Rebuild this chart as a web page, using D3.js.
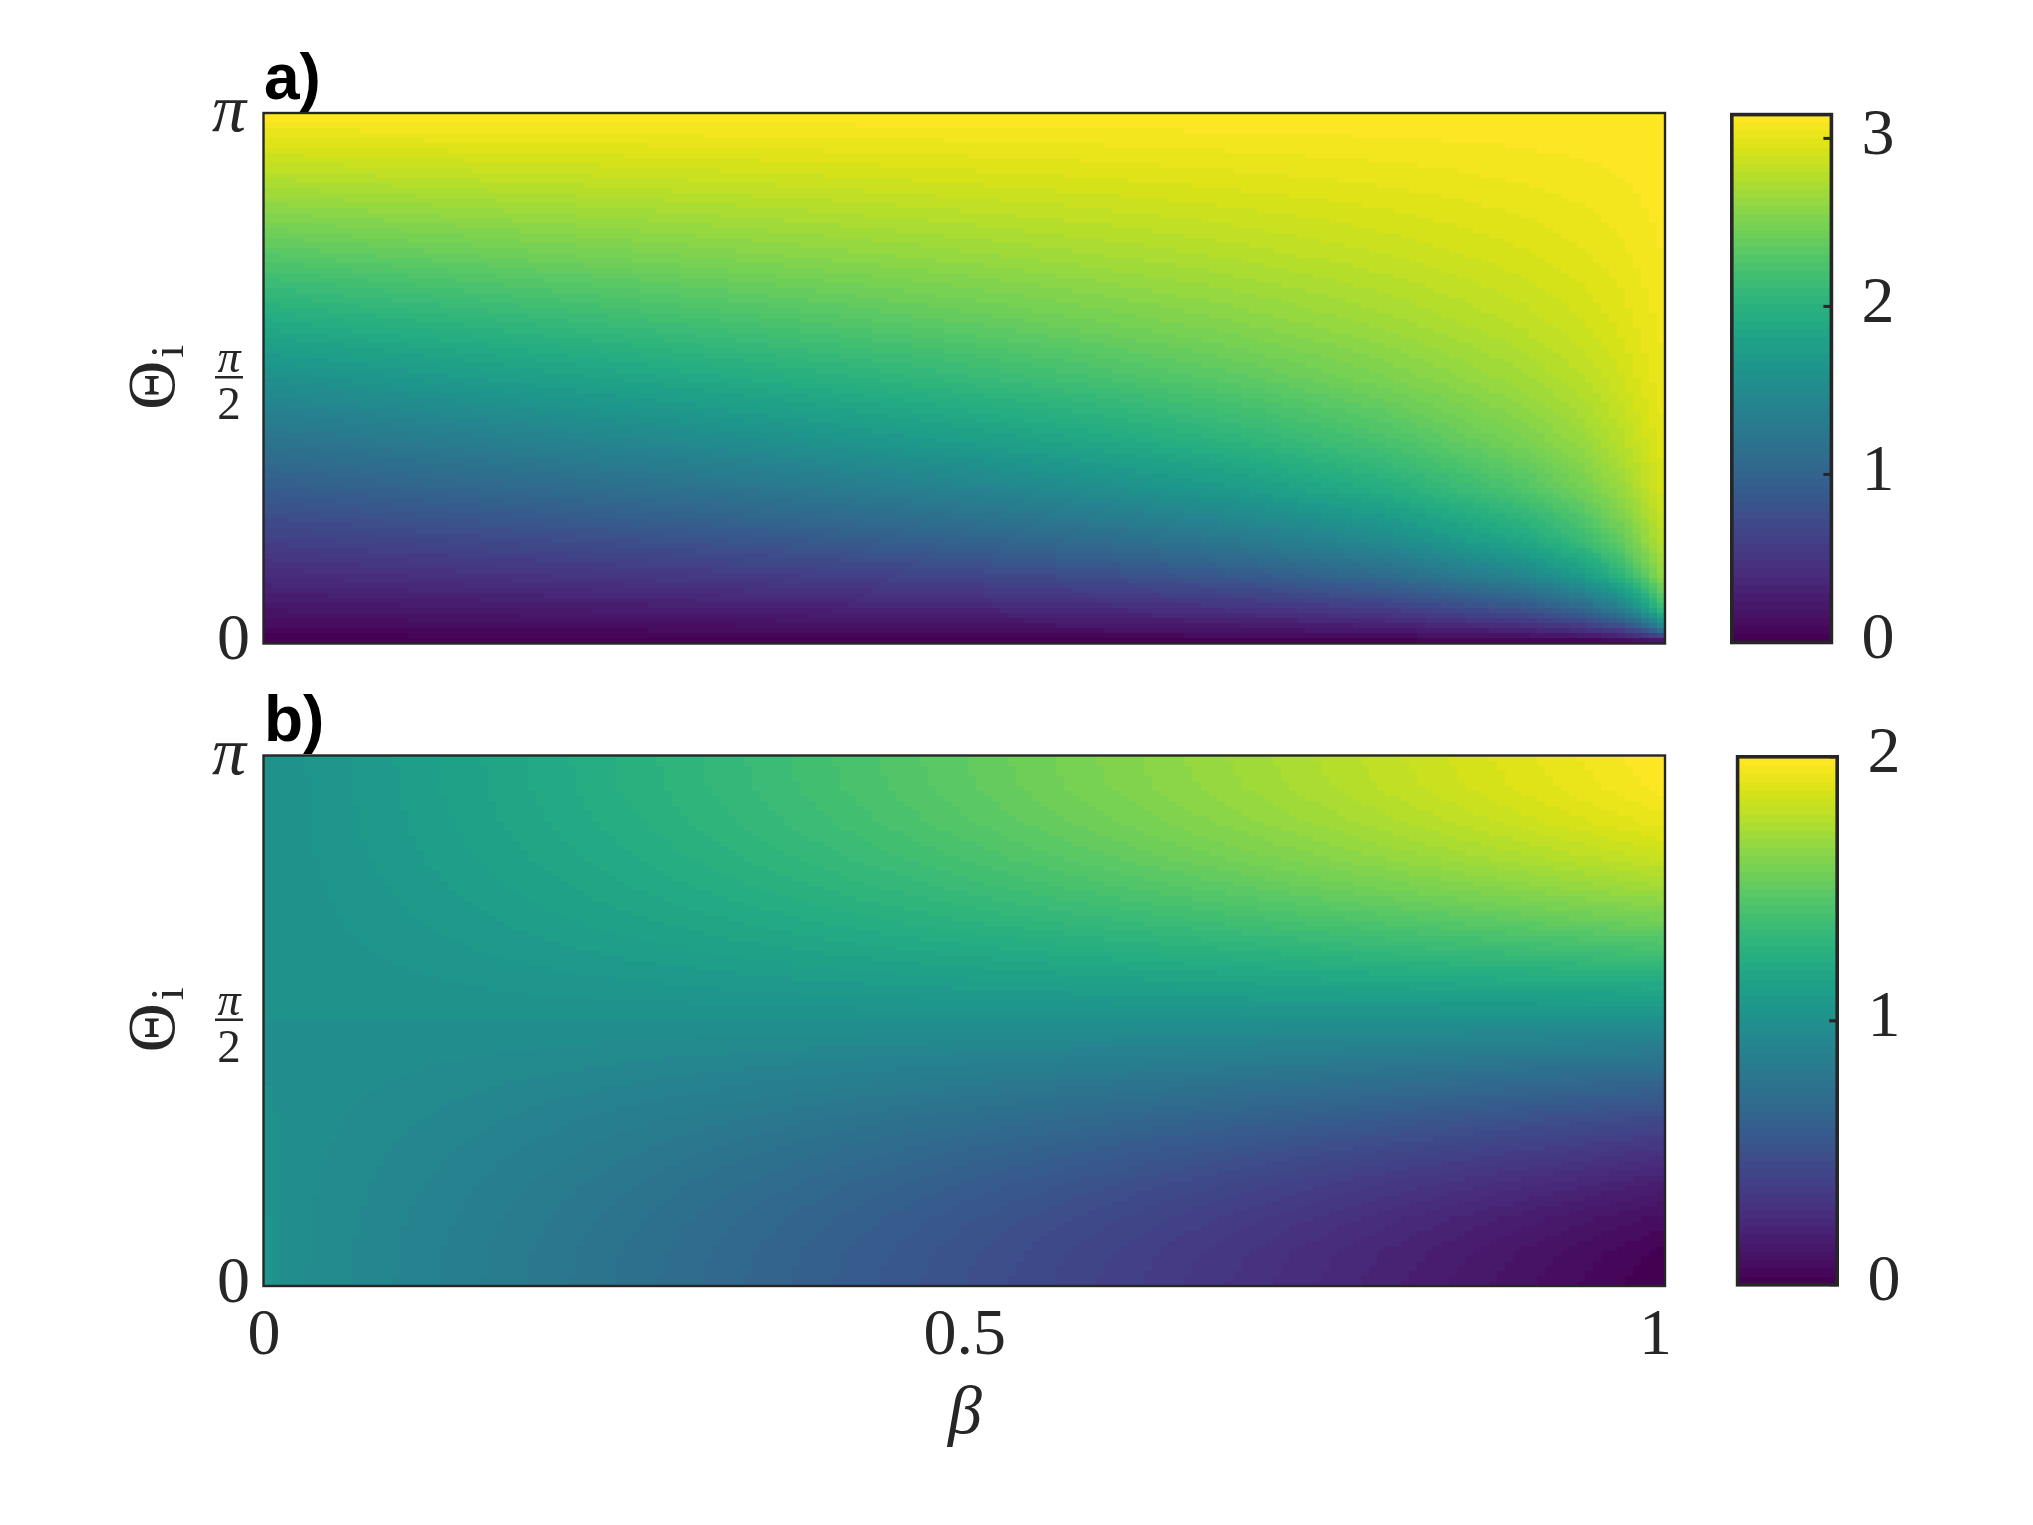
<!DOCTYPE html>
<html><head><meta charset="utf-8">
<script src="https://cdn.jsdelivr.net/npm/d3@7/dist/d3.min.js"></script>
<style>
html,body{margin:0;padding:0;background:#fff;width:2033px;height:1525px;overflow:hidden}
#c{position:absolute;left:0;top:0}
svg{position:absolute;left:0;top:0}
</style></head><body>
<canvas id="c" width="2033" height="1525"></canvas>
<svg id="s" width="2033" height="1525"></svg>
<script>
const PI = Math.PI;
// panel a: values read at these beta / theta positions
const betaA  = [0,.1,.2,.3,.4,.5,.6,.7,.8,.9,.94,.97,.985,.997];
const thetaA = [0,.05,.1,.2,.4,.6,.9,1.2,1.57,1.9,2.3,2.7,PI];
const valuesA = [
 [0,.05,.10,.20,.40,.60,.90,1.20,1.57,1.90,2.30,2.70,3.14],
 [0,.055,.110,.221,.441,.658,.981,1.294,1.670,1.994,2.372,2.741,3.14],
 [0,.061,.122,.245,.487,.724,1.068,1.395,1.771,2.084,2.441,2.779,3.14],
 [0,.068,.136,.272,.539,.798,1.164,1.501,1.874,2.175,2.507,2.815,3.14],
 [0,.076,.153,.304,.601,.883,1.271,1.615,1.981,2.266,2.572,2.850,3.14],
 [0,.087,.173,.344,.675,.984,1.392,1.740,2.094,2.359,2.636,2.884,3.14],
 [0,.100,.199,.396,.771,1.108,1.536,1.879,2.214,2.455,2.701,2.918,3.14],
 [0,.119,.237,.469,.899,1.269,1.710,2.040,2.346,2.558,2.770,2.954,3.14],
 [0,.150,.298,.585,1.093,1.496,1.934,2.234,2.497,2.674,2.845,2.992,3.14],
 [0,.217,.429,.824,1.448,1.865,2.255,2.494,2.690,2.816,2.937,3.039,3.14],
 [0,.282,.554,1.037,1.713,2.107,2.443,2.638,2.793,2.891,2.985,3.063,3.14],
 [0,.400,.771,1.366,2.048,2.383,2.642,2.785,2.896,2.966,3.031,3.086,3.14],
 [0,.560,1.043,1.714,2.332,2.593,2.785,2.889,2.968,3.017,3.064,3.103,3.14],
 [0,.804,1.409,2.081,2.577,2.766,2.899,2.970,3.024,3.057,3.089,3.115,3.14]
];
// panel b
const betaB  = [0,.02,.1,.25,.5,.75,1];
const thetaB = [0,.2,.4,.6,.8,1,1.2,1.4,1.57,1.75,1.95,2.15,2.35,2.55,2.75,2.95,PI];
const valuesB = [
 [1.05,1.05,1.04,1.03,1.02,1.01,1.00,1.00,1,1,1,1,1,1,1,1,1],
 [.98,.98,.982,.984,.986,.989,.993,.997,1,1.004,1.007,1.011,1.014,1.017,1.018,1.02,1.02],
 [.90,.902,.908,.918,.930,.946,.964,.983,1,1.018,1.037,1.055,1.07,1.083,1.092,1.098,1.10],
 [.75,.755,.77,.794,.826,.865,.91,.958,1,1.045,1.093,1.137,1.176,1.208,1.231,1.246,1.25],
 [.5,.51,.54,.588,.652,.73,.819,.915,1,1.089,1.185,1.274,1.352,1.415,1.462,1.491,1.5],
 [.25,.265,.309,.381,.477,.595,.729,.873,1,1.134,1.278,1.41,1.527,1.623,1.693,1.737,1.75],
 [0,.02,.079,.175,.303,.46,.638,.83,1,1.178,1.37,1.547,1.703,1.83,1.924,1.982,2.0]
];
const xTicks = [0,.5,1], xTickLabels = ["0","0.5","1"];
const cbTicksA = [0,1,2,3], cbTicksB = [0,1,2];
const panelALabel = "a)", panelBLabel = "b)", xLabel = "β";

const ink = "#262626";
const x = d3.scaleLinear().domain([0,1]).range([263.5,1665]);
const yA = d3.scaleLinear().domain([0,PI]).range([643.5,113]);
const yB = d3.scaleLinear().domain([0,PI]).range([1286,755.5]);
const palette = d3.quantize(d3.interpolateViridis,64);
const colA = d3.scaleQuantize().domain([0,PI]).range(palette);
const colB = d3.scaleQuantize().domain([0,2]).range(palette);

const ctx = document.getElementById('c').getContext('2d');
function lookup(betas,thetas,vals){
  const bi = d3.scaleLinear().domain(betas).range(betas.map((_,i)=>i)).clamp(true);
  const ti = d3.scaleLinear().domain(thetas).range(thetas.map((_,i)=>i)).clamp(true);
  return (b,t)=>{
    const u=bi(b), v=ti(t);
    const i=Math.min(Math.floor(u),betas.length-2), j=Math.min(Math.floor(v),thetas.length-2);
    const fu=u-i, fv=v-j;
    return d3.interpolateNumber(
      d3.interpolateNumber(vals[i][j],vals[i+1][j])(fu),
      d3.interpolateNumber(vals[i][j+1],vals[i+1][j+1])(fu))(fv);
  };
}
function paint(y,col,f,cw,ch){
  const [x0,x1]=x.range(), [y1,y0]=y.range();
  const nx=Math.round((x1-x0)/cw), ny=Math.round((y1-y0)/ch);
  const dx=(x1-x0)/nx, dy=(y1-y0)/ny;
  for(let i=0;i<nx;i++)for(let j=0;j<ny;j++){
    const px=x0+i*dx, py=y0+j*dy;
    ctx.fillStyle=col(f(x.invert(px+dx/2),y.invert(py+dy/2)));
    ctx.fillRect(Math.round(px),Math.round(py),Math.round(px+dx)-Math.round(px),Math.round(py+dy)-Math.round(py));
  }
}
paint(yA,colA,lookup(betaA,thetaA,valuesA),8,5);
paint(yB,colB,lookup(betaB,thetaB,valuesB),8,5);

const svg = d3.select('#s');
const serif = "'Liberation Serif','Times New Roman',serif";
function txt(px,py,s,size,opts={}){
  return svg.append('text').attr('x',px).attr('y',py).text(s)
   .attr('font-family',opts.family||serif).attr('font-size',size)
   .attr('font-style',opts.style||'normal').attr('font-weight',opts.weight||'normal')
   .attr('text-anchor',opts.anchor||'middle').attr('fill',opts.fill||ink);
}
// colour bars
function colorbar(bx,bw,y,col,dom,ticks,labelX){
  const n=palette.length, [d0,d1]=dom, [by1,by0]=y;
  const cy=d3.scaleLinear().domain(dom).range([by1,by0]);
  palette.forEach((c,i)=>{
    const top=cy(d0+(d1-d0)*(i+1)/n), bot=cy(d0+(d1-d0)*i/n);
    ctx.fillStyle=c; ctx.fillRect(bx,Math.round(top),bw,Math.round(bot)-Math.round(top));
  });
  svg.append('rect').attr('x',bx).attr('y',by0).attr('width',bw).attr('height',by1-by0)
    .attr('fill','none').attr('stroke',ink).attr('stroke-width',3.6);
  ticks.forEach(t=>{
    svg.append('line').attr('x1',bx+bw-8).attr('x2',bx+bw).attr('y1',cy(t)).attr('y2',cy(t))
      .attr('stroke',ink).attr('stroke-width',3);
    txt(labelX,cy(t)+15.5,String(t),66);
  });
}
colorbar(1731.8,99.6,[642.5,114.6],colA,[0,PI],cbTicksA,1878);
colorbar(1737.6,99.6,[1284.8,756.8],colB,[0,2],cbTicksB,1884);

// panel frames and labels
function panel(y,label,baseline){
  const lab=txt(264,baseline,label,64,{family:"'Liberation Sans',Arial,sans-serif",weight:'bold',anchor:'start',fill:'#000'});
  lab.lower();
  svg.append('rect').attr('x',x(0)).attr('y',y(PI)).attr('width',x(1)-x(0)).attr('height',y(0)-y(PI))
    .attr('fill','none').attr('stroke',ink).attr('stroke-width',2.4);
  txt(250,y(0)+15.5,"0",66,{anchor:'end'});
  txt(246,y(PI)+18,"π",68,{anchor:'end',style:'italic'});
  const mid=y(PI/2);
  txt(229,mid-6,"π",46,{style:'italic'});
  svg.append('line').attr('x1',215).attr('x2',243).attr('y1',mid-1).attr('y2',mid-1).attr('stroke',ink).attr('stroke-width',2.5);
  txt(229,mid+41,"2",47);
  const g=svg.append('g').attr('transform',`translate(174,${mid+7}) rotate(-90)`);
  g.append('text').attr('x',0).attr('y',0).attr('text-anchor','middle').attr('font-family',serif).attr('font-size',68).attr('fill',ink).text("Θ");
  g.append('text').attr('x',34).attr('y',9).attr('text-anchor','middle').attr('font-family',serif).attr('font-size',46).attr('fill',ink).text("i");
}
panel(yA,panelALabel,99);
panel(yB,panelBLabel,741);

// x axis labels
const axis = d3.axisBottom(x).tickValues(xTicks).tickSize(0).tickFormat((d,i)=>xTickLabels[i]);
const ax = svg.append('g').attr('transform','translate(0,1286)').call(axis);
ax.select('.domain').remove();
ax.selectAll('text').attr('font-family',serif).attr('font-size',66).attr('fill',ink).attr('dy',0).attr('y',68);
ax.selectAll('.tick').filter(d=>d===1).select('text').attr('x',-10);
txt(965,1433,xLabel,68,{style:'italic'});
</script>
</body></html>
